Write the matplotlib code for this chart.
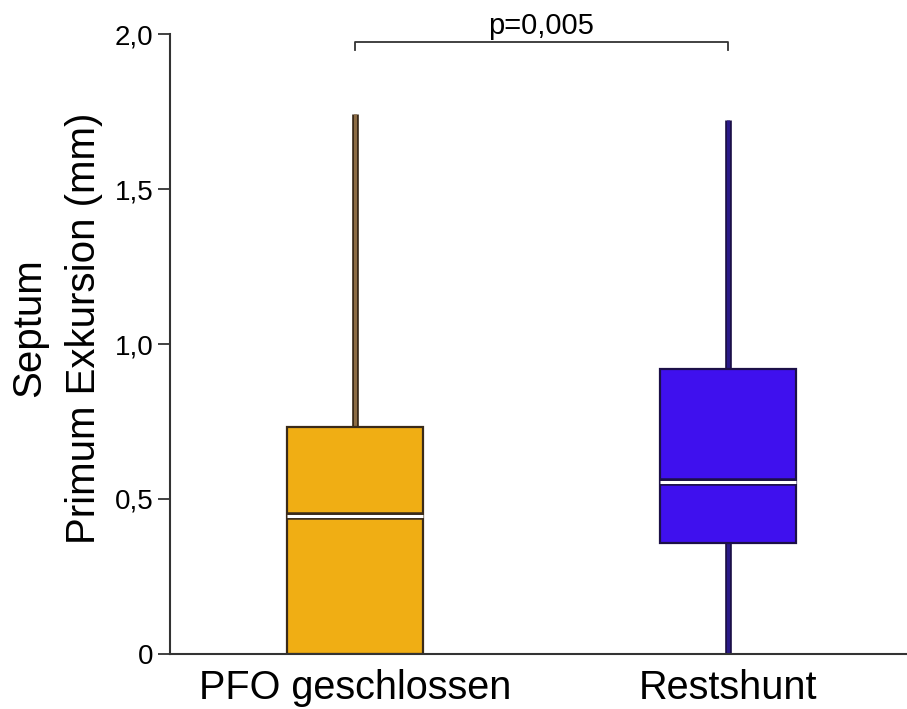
import matplotlib
matplotlib.use("Agg")
import matplotlib.pyplot as plt
import matplotlib.patheffects as pe
from matplotlib.ticker import FuncFormatter

plt.rcParams['font.family'] = ['Liberation Sans', 'DejaVu Sans']

# values (mm)
groups = ['PFO geschlossen', 'Restshunt']
whislo = [0.0, 0.0]
q1 = [0.0, 0.358]
med = [0.445, 0.556]
q3 = [0.732, 0.918]
whishi = [1.742, 1.723]
p_text = 'p=0,005'

fills = ['#F0AE14', '#3F10EE']
edges = ['#3A2A18', '#1C1048']
whisk_fill = ['#8C6C44', '#2A1A88']

fig = plt.figure(figsize=(9.07, 7.09), dpi=100)
ax = fig.add_axes([0.1874, 0.0776, 0.8126, 0.8744])

stats = []
for i in range(len(groups)):
    stats.append(dict(label=groups[i], whislo=whislo[i], q1=q1[i], med=med[i],
                      q3=q3[i], whishi=whishi[i], fliers=[]))

for i in range(len(groups)):
    bp = ax.bxp([stats[i]], positions=[i + 1], widths=0.367, patch_artist=True,
                showcaps=False, showfliers=False, manage_ticks=False)
    for w in bp['whiskers']:
        w.set_color(whisk_fill[i])
        w.set_linewidth(2.2)
        w.set_solid_capstyle('butt')
        w.set_path_effects([pe.Stroke(linewidth=4.8, foreground=edges[i]), pe.Normal()])
        w.set_zorder(1)
    for b in bp['boxes']:
        b.set_facecolor(fills[i])
        b.set_edgecolor(edges[i])
        b.set_linewidth(1.6)
        b.set_zorder(2)
    for m in bp['medians']:
        m.set_color('white')
        m.set_linewidth(2.2)
        m.set_solid_capstyle('butt')
        m.set_path_effects([pe.Stroke(linewidth=5.4, foreground=edges[i]), pe.Normal()])
        m.set_zorder(3)

# significance bracket
ax.plot([1, 1, 2, 2], [1.95, 1.975, 1.975, 1.95], color='#333333', lw=1.3, clip_on=False)
ax.text(1.5, 1.982, p_text, ha='center', va='bottom', fontsize=21)

ax.set_xlim(0.504, 2.48)
ax.set_ylim(0, 2.0)
ax.set_yticks([0, 0.5, 1.0, 1.5, 2.0])
ax.yaxis.set_major_formatter(FuncFormatter(lambda v, p: '0' if v == 0 else ('%.1f' % v).replace('.', ',')))
ax.tick_params(axis='y', labelsize=20, length=9, width=1.3, color='#333333', pad=3)
ax.set_xticks([1, 2])
ax.set_xticklabels(groups, fontsize=28.5)
ax.tick_params(axis='x', length=0, pad=11)

ax.spines['top'].set_visible(False)
ax.spines['right'].set_visible(False)
for s in ['left', 'bottom']:
    ax.spines[s].set_linewidth(1.5)
    ax.spines[s].set_color('#333333')

ax.set_ylabel('Septum\nPrimum Exkursion (mm)', fontsize=29, linespacing=1.55)
ax.yaxis.set_label_coords(-0.091, 0.526)

fig.savefig('out.png', dpi=100)
